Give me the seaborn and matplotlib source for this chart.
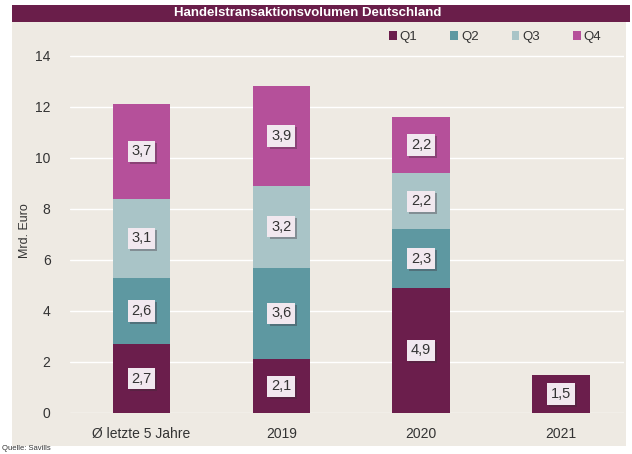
import numpy as np
import pandas as pd
import matplotlib
matplotlib.use("Agg")
import matplotlib.pyplot as plt
import matplotlib.patches as mpatches
import matplotlib.patheffects as pe
import seaborn as sns

categories = ["Ø letzte 5 Jahre", "2019", "2020", "2021"]
quarters = ["Q1", "Q2", "Q3", "Q4"]
q1 = [2.7, 2.1, 4.9, 1.5]
q2 = [2.6, 3.6, 2.3, np.nan]
q3 = [3.1, 3.2, 2.2, np.nan]
q4 = [3.7, 3.9, 2.2, np.nan]
colors = ["#6B1E4C", "#5E98A1", "#A9C4C7", "#B5509A"]

sns.set_theme(style="white")
plt.rcParams["font.family"] = ["Liberation Sans", "DejaVu Sans"]

bg = "#EEEAE3"
fig = plt.figure(figsize=(6.32, 4.54), dpi=100)
fig.patch.set_facecolor("white")
W, H = 632, 454

# beige panel and title bar
fig.patches.append(mpatches.Rectangle((12 / W, 1 - 446 / H), (626 - 12) / W, (446 - 22) / H,
                                      transform=fig.transFigure, facecolor=bg, edgecolor="none", zorder=-10))
fig.patches.append(mpatches.Rectangle((12 / W, 1 - 22 / H), (630 - 12) / W, 17 / H,
                                      transform=fig.transFigure, facecolor="#6A1E4A", edgecolor="none", zorder=-10))
fig.text(308 / W, 1 - 13.5 / H, "Handelstransaktionsvolumen Deutschland", color="white",
         fontsize=9.5, fontweight="bold", ha="center", va="center")
fig.text(2 / W, 1 - 449 / H, "Quelle: Savills", fontsize=5.5, color="#333333", ha="left", va="center")

ax = fig.add_axes([70 / W, 1 - 413 / H, (624 - 70) / W, (413 - 48) / H])
ax.set_facecolor(bg)

df = pd.DataFrame({"Kategorie": categories, "Q1": q1, "Q2": q2, "Q3": q3, "Q4": q4})
vals = df[quarters].fillna(0.0)
cum = vals.cumsum(axis=1)

# stacked bars: draw the running totals from top layer down
for i in reversed(range(4)):
    q = quarters[i]
    plot_df = pd.DataFrame({"Kategorie": categories, "Wert": cum[q].values})
    sns.barplot(data=plot_df, x="Kategorie", y="Wert", color=colors[i], width=0.41,
                saturation=1, ax=ax, zorder=3, edgecolor="none")

ax.set_ylim(0, 14.3)
ax.set_xlim(-0.51, 3.45)
ax.set_yticks(range(0, 15, 2))
ax.yaxis.grid(True, color="white", linewidth=1.0, zorder=0)
ax.set_axisbelow(True)
for s in ax.spines.values():
    s.set_visible(False)
ax.tick_params(axis="y", length=0, pad=14, labelsize=10, labelcolor="#333333")
ax.tick_params(axis="x", length=0, pad=10, labelsize=10, labelcolor="#333333")
ax.set_xlabel("")
ax.set_ylabel("Mrd. Euro", fontsize=9, color="#333333", labelpad=3)

# value labels in small boxes with a drop shadow
shadow = [pe.SimplePatchShadow(offset=(1.5, -1.5), shadow_rgbFace="#3a2a35", alpha=0.35), pe.Normal()]
for j in range(len(categories)):
    base = 0.0
    for q in quarters:
        v = df.loc[j, q]
        if pd.isna(v):
            continue
        mid = base + v / 2
        txt = f"{v:.1f}".replace(".", ",")
        t = ax.text(j, mid, txt, ha="center", va="center", fontsize=10.5, color="#333333", zorder=5,
                    bbox=dict(boxstyle="square,pad=0.25", facecolor="#F1E8EF", edgecolor="none"))
        t.get_bbox_patch().set_path_effects(shadow)
        base += v

handles = [mpatches.Patch(facecolor=c, edgecolor="none") for c in colors]
leg = fig.legend(handles, quarters, loc="center", bbox_to_anchor=(495 / W, 1 - 37 / H), ncol=4,
                 frameon=False, fontsize=9.5, handlelength=0.6, handleheight=0.6, handletextpad=0.2,
                 columnspacing=2.5)
for t in leg.get_texts():
    t.set_color("#333333")

fig.savefig("out.png", dpi=100, facecolor=fig.get_facecolor())
